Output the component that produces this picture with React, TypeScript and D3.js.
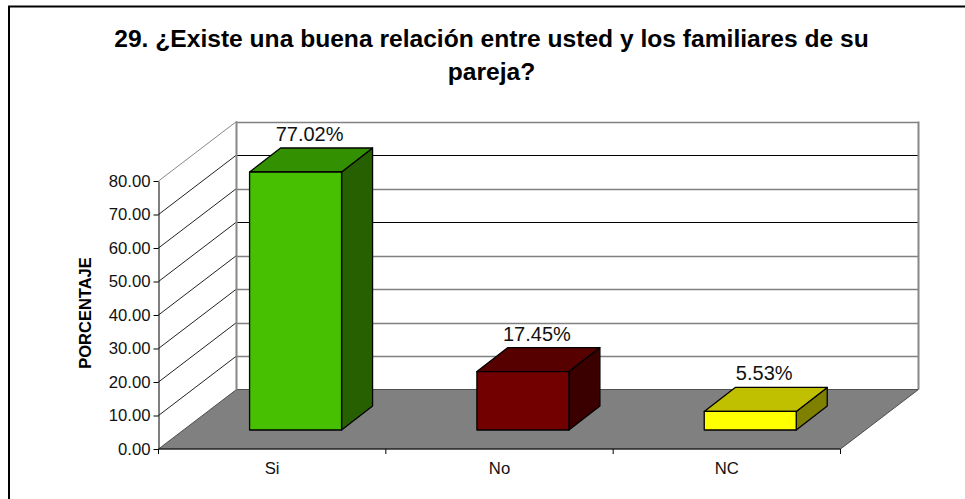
import * as React from "react";
import * as d3 from "d3";

const title = ["29. ¿Existe una buena relación entre usted y los familiares de su", "pareja?"];
const categories = ["Si", "No", "NC"];
const values = [77.02, 17.45, 5.53];
const yTicks = [0, 10, 20, 30, 40, 50, 60, 70, 80];
const darkWallTicks = [50, 70];
const frontColors = ["#46c000", "#730000", "#ffff00"];
const topColors = ["#339000", "#560000", "#c0c000"];
const sideColors = ["#266000", "#3a0000", "#808000"];

const left = 158.5;
const right = 840.5;
const bottom = 449;
const top = 181;
const depthX = 78;
const depthY = -59.5;
const barDepthX = 31;
const barDepthY = -24;
const barShiftX = 23.4;
const barShiftY = -19;
const barWidth = 92;

function drawChart(svgEl: SVGSVGElement) {
  const svg = d3.select(svgEl);
  svg.selectAll("*").remove();

  const x = d3.scaleBand().domain(categories).range([left, right]);
  const y = d3.scaleLinear().domain([0, 80]).range([bottom, top]);
  const font = "'Liberation Sans', Arial, sans-serif";

  // frame, only top and left show in the picture
  svg.append("path").attr("d", "M9,499V6.5H965").attr("fill", "none").attr("stroke", "#000").attr("stroke-width", 2);

  svg
    .selectAll(".title")
    .data(title)
    .enter()
    .append("text")
    .classed("title", true)
    .attr("x", 491.5)
    .attr("y", (d, i) => 47 + i * 33)
    .attr("text-anchor", "middle")
    .attr("font-family", font)
    .attr("font-size", 24.6)
    .attr("font-weight", "bold")
    .text((d) => d);

  // floor
  const floor = d3.path();
  floor.moveTo(left, bottom);
  floor.lineTo(left + depthX, bottom + depthY);
  floor.lineTo(right + depthX, bottom + depthY);
  floor.lineTo(right, bottom);
  floor.closePath();
  svg.append("path").attr("d", floor.toString()).attr("fill", "#808080").attr("stroke", "#333").attr("stroke-width", 0.8);

  // side wall diagonals and back wall lines
  const grid = svg.append("g").attr("fill", "none");
  yTicks.slice(1).forEach((t) => {
    const isTop = t === 80;
    const dark = darkWallTicks.includes(t);
    const wallY = Math.round(y(t) + depthY) + 0.5;
    grid
      .append("path")
      .attr("d", `M${left},${y(t)}L${left + depthX},${y(t) + depthY}`)
      .attr("stroke", isTop ? "#888" : "#222")
      .attr("stroke-width", 1);
    grid
      .append("path")
      .attr("d", `M${left + depthX},${wallY}H${right + depthX}`)
      .attr("stroke", dark ? "#000" : "#808080")
      .attr("stroke-width", dark ? 1 : 1.5);
  });
  grid
    .append("path")
    .attr("d", `M${left + depthX},${y(80) + depthY}V${bottom + depthY}`)
    .attr("stroke", "#888")
    .attr("stroke-width", 2);
  grid
    .append("path")
    .attr("d", `M${right + depthX},${y(80) + depthY}V${bottom + depthY}`)
    .attr("stroke", "#888")
    .attr("stroke-width", 2);

  // bars
  const bars = svg
    .selectAll(".bar")
    .data(values)
    .enter()
    .append("g")
    .classed("bar", true)
    .attr("stroke", "#000")
    .attr("stroke-width", 1.3)
    .attr("stroke-linejoin", "round");
  const barLeft = (i: number) => x(categories[i])! + x.bandwidth() / 2 + barShiftX - barWidth / 2;
  const barTop = (d: number) => y(d) + barShiftY;
  const baseY = bottom + barShiftY;

  bars
    .append("path")
    .attr("d", (d, i) => {
      const p = d3.path();
      const r = barLeft(i) + barWidth;
      p.moveTo(r, barTop(d));
      p.lineTo(r + barDepthX, barTop(d) + barDepthY);
      p.lineTo(r + barDepthX, baseY + barDepthY);
      p.lineTo(r, baseY);
      p.closePath();
      return p.toString();
    })
    .attr("fill", (d, i) => sideColors[i]);
  bars
    .append("path")
    .attr("d", (d, i) => {
      const p = d3.path();
      const l = barLeft(i);
      p.moveTo(l, barTop(d));
      p.lineTo(l + barDepthX, barTop(d) + barDepthY);
      p.lineTo(l + barWidth + barDepthX, barTop(d) + barDepthY);
      p.lineTo(l + barWidth, barTop(d));
      p.closePath();
      return p.toString();
    })
    .attr("fill", (d, i) => topColors[i]);
  bars
    .append("rect")
    .attr("x", (d, i) => barLeft(i))
    .attr("y", (d) => barTop(d))
    .attr("width", barWidth)
    .attr("height", (d) => baseY - barTop(d))
    .attr("fill", (d, i) => frontColors[i]);

  svg
    .selectAll(".label")
    .data(values)
    .enter()
    .append("text")
    .classed("label", true)
    .attr("x", (d, i) => barLeft(i) + barWidth / 2 + 14)
    .attr("y", (d) => barTop(d) + barDepthY - 7)
    .attr("text-anchor", "middle")
    .attr("font-family", font)
    .attr("font-size", 20)
    .attr("fill", "#111")
    .text((d) => d.toFixed(2) + "%");

  // y axis
  const yAxis = svg
    .append("g")
    .attr("transform", `translate(${left},0)`)
    .call(d3.axisLeft(y).tickValues(yTicks).tickFormat(d3.format(".2f")).tickSize(5).tickSizeOuter(0));
  yAxis.selectAll("text").attr("font-family", font).attr("font-size", 16.7).attr("fill", "#111").attr("x", -8);
  yAxis.selectAll("line,path").attr("stroke", "#000");

  // x axis, ticks sit on the band edges
  const edges = [...categories.map((c) => x(c)!), right];
  svg
    .append("line")
    .attr("x1", left)
    .attr("x2", right)
    .attr("y1", bottom)
    .attr("y2", bottom)
    .attr("stroke", "#111");
  svg
    .selectAll(".xtick")
    .data(edges)
    .enter()
    .append("line")
    .classed("xtick", true)
    .attr("x1", (d) => d)
    .attr("x2", (d) => d)
    .attr("y1", bottom)
    .attr("y2", bottom + 5)
    .attr("stroke", "#000");
  svg
    .selectAll(".xlabel")
    .data(categories)
    .enter()
    .append("text")
    .classed("xlabel", true)
    .attr("x", (d) => x(d)! + x.bandwidth() / 2)
    .attr("y", 474)
    .attr("text-anchor", "middle")
    .attr("font-family", font)
    .attr("font-size", 16.7)
    .attr("fill", "#111")
    .text((d) => d);

  svg
    .append("text")
    .attr("transform", "translate(91,313) rotate(-90)")
    .attr("text-anchor", "middle")
    .attr("font-family", font)
    .attr("font-size", 16.5)
    .attr("font-weight", "bold")
    .text("PORCENTAJE");
}

export default function App() {
  const svgRef = React.useRef<SVGSVGElement>(null);

  React.useEffect(() => {
    drawChart(svgRef.current!);
  }, []);

  return <svg ref={svgRef} width={965} height={499} style={{ position: "absolute", left: 0, top: 0 }} />;
}
